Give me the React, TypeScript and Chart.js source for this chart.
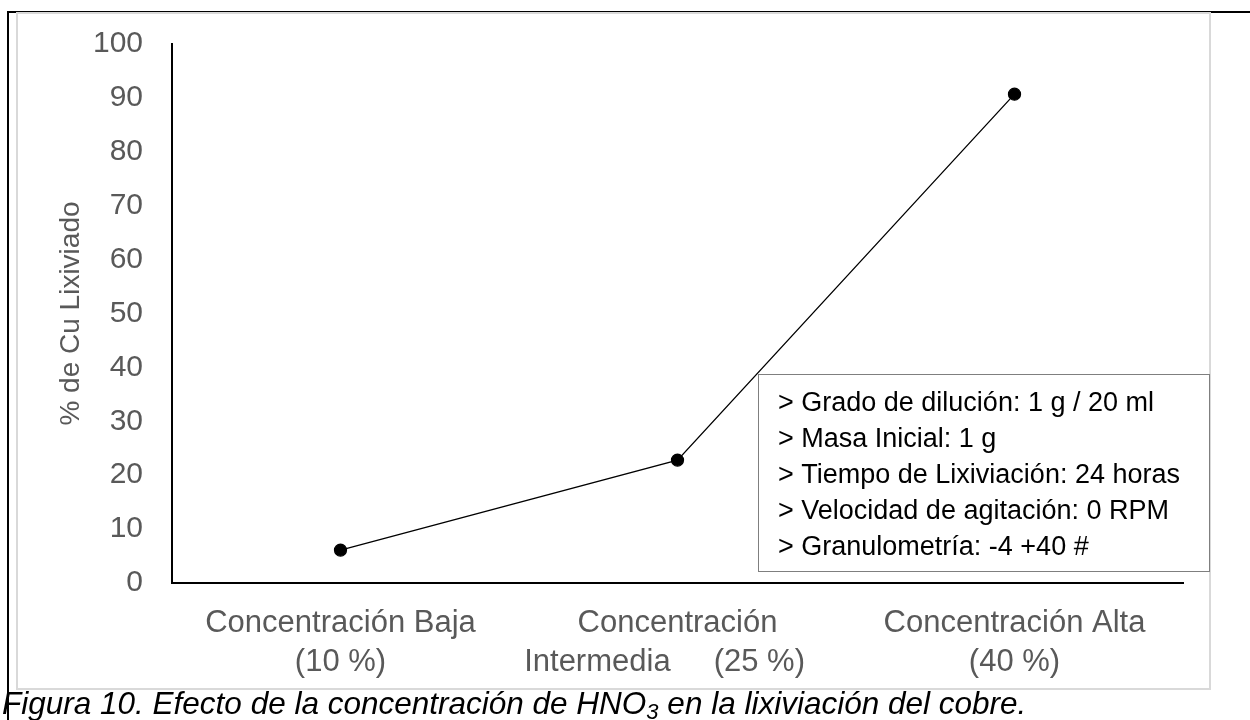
import React, { useEffect, useRef } from "react";
import { Chart, registerables } from "chart.js";

Chart.register(...registerables);

// ---- data ----
const categories: string[][] = [
  ["Concentración Baja", "(10 %)"],
  ["Concentración", "Intermedia     (25 %)   "],
  ["Concentración Alta", "(40 %)"],
];
const cuLeached: number[] = [6.1, 22.8, 90.7];
const yMin = 0;
const yMax = 100;
const yStep = 10;
const yTitle = "% de Cu Lixiviado";
const conditions: string[] = [
  "> Grado de dilución: 1 g / 20 ml",
  "> Masa Inicial: 1 g",
  "> Tiempo de Lixiviación: 24 horas",
  "> Velocidad de agitación: 0 RPM",
  "> Granulometría: -4 +40 #",
];
const captionMain = "Figura 10. Efecto de la concentración de HNO";
const captionSub = "3";
const captionEnd = " en la lixiviación del cobre.";

const FONT = "'Liberation Sans', Arial, sans-serif";
const GRAY_TEXT = "#595959";

// canvas placement on the page
const CANVAS_LEFT = 18;
const CANVAS_TOP = -3;
const CANVAS_W = 1192;
const CANVAS_H = 692;

const conditionsBox = {
  id: "conditionsBox",
  afterDatasetsDraw(chart: any) {
    const { ctx, chartArea } = chart;
    const left = chartArea.left + 586;
    const top = chartArea.bottom - 209;
    const right = chart.width - 0.5;
    const bottom = top + 197;
    ctx.save();
    ctx.fillStyle = "#ffffff";
    ctx.fillRect(left, top, right - left, bottom - top);
    ctx.strokeStyle = "#7f7f7f";
    ctx.lineWidth = 1;
    ctx.strokeRect(Math.round(left) + 0.5, Math.round(top) + 0.5, Math.round(right - left) - 1, Math.round(bottom - top));
    ctx.fillStyle = "#000000";
    ctx.font = `27px ${FONT}`;
    ctx.textBaseline = "middle";
    ctx.textAlign = "left";
    conditions.forEach((line, i) => {
      ctx.fillText(line, left + 20, top + 30 + i * 36);
    });
    ctx.restore();
  },
};

function LineChart() {
  const ref = useRef<HTMLCanvasElement | null>(null);
  useEffect(() => {
    if (!ref.current) return;
    const chart = new Chart(ref.current, {
      type: "line",
      data: {
        labels: categories as any,
        datasets: [
          {
            data: cuLeached,
            borderColor: "#000000",
            borderWidth: 1.3,
            backgroundColor: "#000000",
            pointBackgroundColor: "#000000",
            pointBorderColor: "#000000",
            pointRadius: 6,
            pointHoverRadius: 6,
            tension: 0,
          },
        ],
      },
      options: {
        animation: false,
        responsive: false,
        maintainAspectRatio: false,
        layout: { padding: { top: 11, right: 27, left: 0, bottom: 0 } },
        plugins: {
          legend: { display: false },
          tooltip: { enabled: false },
        },
        scales: {
          x: {
            type: "category",
            offset: true,
            grid: { display: false, drawTicks: false },
            border: { display: true, color: "#000000", width: 2 },
            ticks: {
              color: GRAY_TEXT,
              font: { family: FONT, size: 31, lineHeight: 1.25 },
              padding: 21,
              maxRotation: 0,
              autoSkip: false,
            },
            afterFit: (scale: any) => {
              scale.height = 106;
            },
          },
          y: {
            min: yMin,
            max: yMax,
            grid: { display: false, drawTicks: false },
            border: { display: true, color: "#000000", width: 2 },
            ticks: {
              stepSize: yStep,
              color: GRAY_TEXT,
              font: { family: FONT, size: 30 },
              padding: 29,
            },
            title: {
              display: true,
              text: yTitle,
              color: GRAY_TEXT,
              font: { family: FONT, size: 28 },
              padding: { top: 36, bottom: 0 },
            },
            afterFit: (scale: any) => {
              scale.width = 154;
            },
          },
        },
      },
      plugins: [conditionsBox],
    });
    return () => chart.destroy();
  }, []);
  return (
    <canvas
      ref={ref}
      width={CANVAS_W}
      height={CANVAS_H}
      style={{ position: "absolute", left: CANVAS_LEFT, top: CANVAS_TOP, width: CANVAS_W, height: CANVAS_H }}
    />
  );
}

export default function App() {
  return (
    <div
      style={{
        position: "absolute",
        left: 0,
        top: 0,
        width: 1250,
        height: 720,
        background: "#ffffff",
        overflow: "hidden",
      }}
    >
      {/* outer black frame lines */}
      <div style={{ position: "absolute", left: 7, top: 11, width: 1243, height: 2, background: "#000" }} />
      <div style={{ position: "absolute", left: 7, top: 11, width: 2, height: 709, background: "#000" }} />
      {/* chart area border */}
      <div
        style={{
          position: "absolute",
          left: 16,
          top: 12,
          width: 1195,
          height: 678,
          boxSizing: "border-box",
          border: "2px solid #d9d9d9",
        }}
      />
      <LineChart />
      <div
        style={{
          position: "absolute",
          left: 2,
          top: 687,
          fontFamily: FONT,
          fontStyle: "italic",
          fontSize: 31.5,
          lineHeight: "32px",
          color: "#000",
          whiteSpace: "pre",
        }}
      >
        {captionMain}
        <sub style={{ fontSize: 22, verticalAlign: "-5px", lineHeight: 0 }}>{captionSub}</sub>
        {captionEnd}
      </div>
    </div>
  );
}
